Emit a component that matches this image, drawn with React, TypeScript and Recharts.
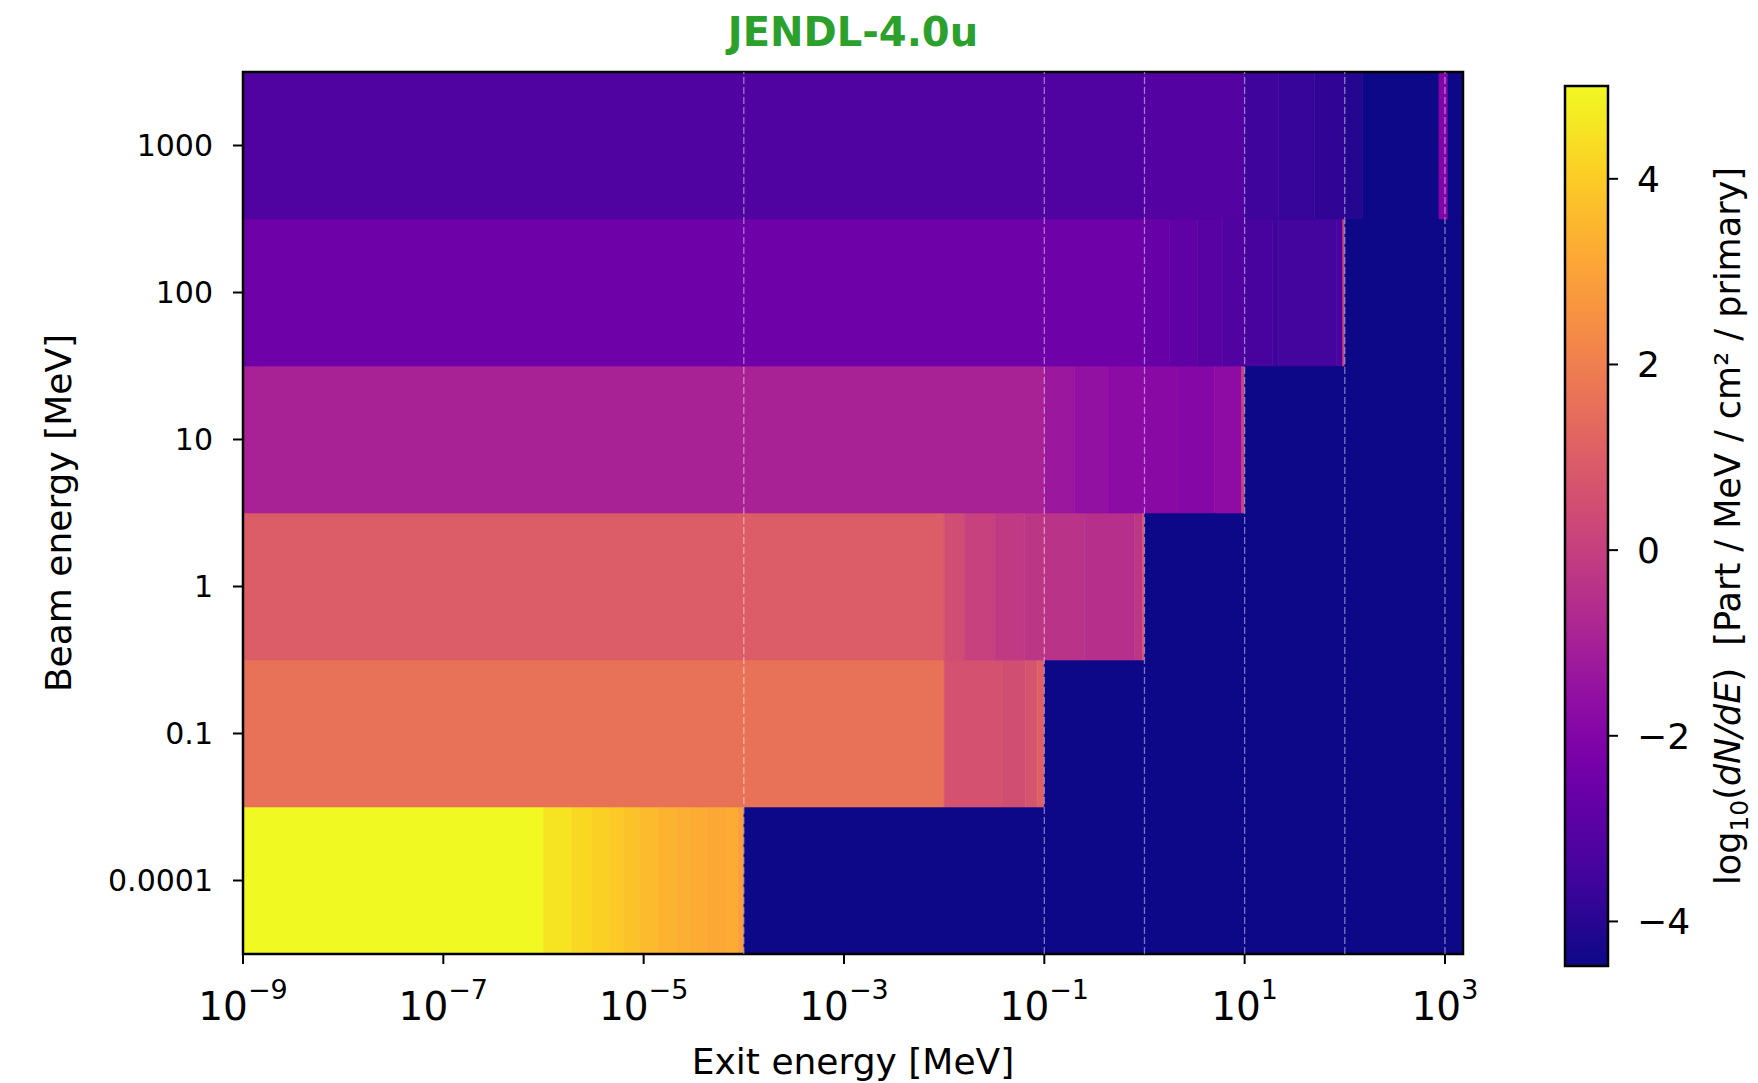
import { ComposedChart, ReferenceArea, ReferenceLine, XAxis, YAxis } from "recharts";

const FONT = "DejaVu Sans, Verdana, sans-serif";

const BEAM_LABELS = ["0.0001", "0.1", "1", "10", "100", "1000"];
const BEAM_ENERGIES = [1e-4, 0.1, 1, 10, 100, 1000];
const X_TICKS = [1e-9, 1e-7, 1e-5, 1e-3, 1e-1, 1e1, 1e3];
const CBAR_TICKS = [-4, -2, 0, 2, 4];
const X_MIN_EXP = -9;
const X_MAX_EXP = 3.18;
const Z_MIN = -4.48;
const Z_MAX = 5.0;

// bin edges in log10(exit energy / MeV), one log10(dN/dE) value per bin
const ROW_0001_EDGES = [-9, -6, -5.72, -5.52, -5.35, -5.2, -5.04, -4.86, -4.67, -4.54, -4.37, -4.17, -4.06, -4, 3.18];
const ROW_0001_VALUES = [5.0, 4.54, 4.27, 4.1, 3.93, 3.77, 3.58, 3.44, 3.31, 3.25, 3.15, 3.25, 2.91, -4.48];

const ROW_01_EDGES = [-9, -2, -1.43, -1.19, -1.07, -1, 3.18];
const ROW_01_VALUES = [1.62, 0.62, 0.49, 0.71, 1.07, -4.48];

const ROW_1_EDGES = [-9, -2, -1.8, -1.5, -1.2, -1, -0.6, -0.1, -0.02, 0, 3.18];
const ROW_1_VALUES = [0.98, 0.45, 0.05, -0.16, -0.3, -0.4, -0.51, -0.3, 0.73, -4.48];

const ROW_10_EDGES = [-9, -1, -0.7, -0.37, 0, 0.33, 0.7, 0.97, 1, 3.18];
const ROW_10_VALUES = [-0.94, -1.3, -1.55, -1.72, -1.81, -1.92, -1.66, 0.12, -4.48];

const ROW_100_EDGES = [-9, 0, 0.25, 0.53, 0.78, 1, 1.28, 1.34, 1.92, 1.98, 2, 3.18];
const ROW_100_VALUES = [-2.49, -2.63, -2.81, -3.0, -3.18, -3.37, -3.59, -3.47, -3.32, 0.35, -4.48];

const ROW_1000_EDGES = [-9, 0, 1, 1.34, 1.7, 2, 2.18, 2.94, 3.03, 3.18];
const ROW_1000_VALUES = [-3.18, -3.1, -3.59, -3.71, -3.84, -4.06, -4.48, -2.0, -4.48];

const ROWS = [
  { edges: ROW_0001_EDGES, values: ROW_0001_VALUES },
  { edges: ROW_01_EDGES, values: ROW_01_VALUES },
  { edges: ROW_1_EDGES, values: ROW_1_VALUES },
  { edges: ROW_10_EDGES, values: ROW_10_VALUES },
  { edges: ROW_100_EDGES, values: ROW_100_VALUES },
  { edges: ROW_1000_EDGES, values: ROW_1000_VALUES },
];

// matplotlib "plasma" colormap samples
const PLASMA: [number, string][] = [
  [0, "#0d0887"],
  [0.1, "#41049d"],
  [0.2, "#6a00a8"],
  [0.25, "#7e03a8"],
  [0.3, "#8f0da4"],
  [0.4, "#b12a90"],
  [0.5, "#cc4778"],
  [0.6, "#e16462"],
  [0.7, "#f2844b"],
  [0.75, "#f89540"],
  [0.8, "#fca636"],
  [0.9, "#fcce25"],
  [1, "#f0f921"],
];

function hexToRgb(hex: string) {
  const n = parseInt(hex.slice(1), 16);
  return [(n >> 16) & 255, (n >> 8) & 255, n & 255];
}

function plasma(value: number) {
  const t = Math.min(1, Math.max(0, (value - Z_MIN) / (Z_MAX - Z_MIN)));
  for (let i = 1; i < PLASMA.length; i++) {
    const [t1, c1] = PLASMA[i];
    if (t <= t1) {
      const [t0, c0] = PLASMA[i - 1];
      const f = (t - t0) / (t1 - t0);
      const a = hexToRgb(c0);
      const b = hexToRgb(c1);
      const rgb = a.map((v, k) => Math.round(v + (b[k] - v) * f));
      return `rgb(${rgb[0]},${rgb[1]},${rgb[2]})`;
    }
  }
  return PLASMA[PLASMA.length - 1][1];
}

const cells = ROWS.flatMap((row, r) =>
  row.values.map((value, i) => ({
    key: `${r}-${i}`,
    row: r,
    x1: 10 ** row.edges[i],
    x2: 10 ** row.edges[i + 1],
    color: plasma(value),
  }))
);

function XTick({ x, y, payload }: any) {
  const exp = Math.round(Math.log10(payload.value));
  return (
    <text x={x} y={y + 56} textAnchor="middle" fontSize={39} fill="#000" fontFamily={FONT}>
      10
      <tspan dy={-21} fontSize={27}>
        {exp < 0 ? `\u2212${-exp}` : `${exp}`}
      </tspan>
    </text>
  );
}

// colorbar body: the plasma gradient in a framed box
function ColorbarBox({ x, y, width, height }: any) {
  return (
    <g>
      <defs>
        <linearGradient id="plasmaBar" x1="0" y1="1" x2="0" y2="0">
          {PLASMA.map(([t, c]) => (
            <stop key={t} offset={t} stopColor={c} />
          ))}
        </linearGradient>
      </defs>
      <rect x={x} y={y} width={width} height={height} fill="url(#plasmaBar)" stroke="#000" strokeWidth={2.5} />
    </g>
  );
}

export default function App() {
  return (
    <div style={{ position: "absolute", left: 0, top: 0, width: 1758, height: 1083, background: "#fff", fontFamily: FONT }}>
      <svg width={1758} height={70} style={{ position: "absolute", left: 0, top: 0 }}>
        <text x={853} y={46} textAnchor="middle" fontSize={40} fontWeight="bold" fill="#2ca02c" fontFamily={FONT}>
          JENDL-4.0u
        </text>
      </svg>

      <div style={{ position: "absolute", left: 0, top: 0 }}>
        <ComposedChart width={1500} height={1083} data={[]} margin={{ top: 72, right: 37, bottom: 0, left: 0 }}>
          <XAxis
            type="number"
            scale="log"
            dataKey="x"
            domain={[10 ** X_MIN_EXP, 10 ** X_MAX_EXP]}
            allowDataOverflow
            ticks={X_TICKS}
            interval={0}
            height={129}
            tickSize={10}
            tickMargin={0}
            axisLine={false}
            tickLine={{ stroke: "#000", strokeWidth: 2 }}
            tick={<XTick />}
            label={{
              content: ({ viewBox }: any) => (
                <text x={viewBox.x + viewBox.width / 2} y={viewBox.y + 120} textAnchor="middle" fontSize={36} fill="#000" fontFamily={FONT}>
                  Exit energy [MeV]
                </text>
              ),
            }}
          />
          <YAxis
            type="number"
            domain={[0, 6]}
            allowDataOverflow
            ticks={[0.5, 1.5, 2.5, 3.5, 4.5, 5.5]}
            interval={0}
            width={243}
            tickSize={10}
            tickMargin={20}
            axisLine={false}
            tickLine={{ stroke: "#000", strokeWidth: 2 }}
            tick={{ fill: "#000", fontSize: 30, fontFamily: FONT }}
            tickFormatter={(v: number) => BEAM_LABELS[Math.floor(v)]}
            label={{
              content: ({ viewBox }: any) => {
                const cy = viewBox.y + viewBox.height / 2;
                return (
                  <text x={71} y={cy} transform={`rotate(-90, 71, ${cy})`} textAnchor="middle" fontSize={36} fill="#000" fontFamily={FONT}>
                    Beam energy [MeV]
                  </text>
                );
              },
            }}
          />
          {cells.map((c) => (
            <ReferenceArea
              key={c.key}
              x1={c.x1}
              x2={c.x2}
              y1={c.row}
              y2={c.row + 1}
              fill={c.color}
              fillOpacity={1}
              stroke={c.color}
              strokeWidth={0.6}
              ifOverflow="visible"
            />
          ))}
          {BEAM_ENERGIES.map((e) => (
            <ReferenceLine key={e} x={e} stroke="#ffffff" strokeOpacity={0.45} strokeWidth={1.3} strokeDasharray="7 3" ifOverflow="visible" />
          ))}
          <ReferenceArea
            x1={10 ** X_MIN_EXP}
            x2={10 ** X_MAX_EXP}
            y1={0}
            y2={6}
            fill="none"
            fillOpacity={0}
            stroke="#000"
            strokeWidth={2.5}
            ifOverflow="visible"
          />
        </ComposedChart>
      </div>

      <div style={{ position: "absolute", left: 1500, top: 0 }}>
        <ComposedChart width={258} height={1083} data={[]} margin={{ top: 86, right: 0, bottom: 117, left: 65 }}>
          <XAxis type="number" dataKey="x" domain={[0, 1]} allowDataOverflow height={0} tick={false} tickLine={false} axisLine={false} />
          <YAxis
            type="number"
            orientation="right"
            domain={[Z_MIN, Z_MAX]}
            allowDataOverflow
            ticks={CBAR_TICKS}
            interval={0}
            width={150}
            tickSize={10}
            tickMargin={19}
            axisLine={false}
            tickLine={{ stroke: "#000", strokeWidth: 2 }}
            tick={{ fill: "#000", fontSize: 36, fontFamily: FONT }}
            tickFormatter={(v: number) => (v < 0 ? `\u2212${-v}` : `${v}`)}
            label={{
              content: ({ viewBox }: any) => {
                const cy = viewBox.y + viewBox.height / 2;
                return (
                  <text x={1740 - 1500} y={cy} transform={`rotate(-90, ${1740 - 1500}, ${cy})`} textAnchor="middle" fontSize={35} fill="#000" fontFamily={FONT}>
                    log
                    <tspan fontSize={25} dy={8}>10</tspan>
                    <tspan dy={-8}>(</tspan>
                    <tspan fontStyle="italic">dN/dE</tspan>
                    <tspan>){"\u00a0\u00a0"}[Part / MeV / cm² / primary]</tspan>
                  </text>
                );
              },
            }}
          />
          <ReferenceArea
            x1={0}
            x2={1}
            y1={Z_MIN}
            y2={Z_MAX}
            ifOverflow="visible"
            shape={<ColorbarBox />}
          />
        </ComposedChart>
      </div>
    </div>
  );
}
